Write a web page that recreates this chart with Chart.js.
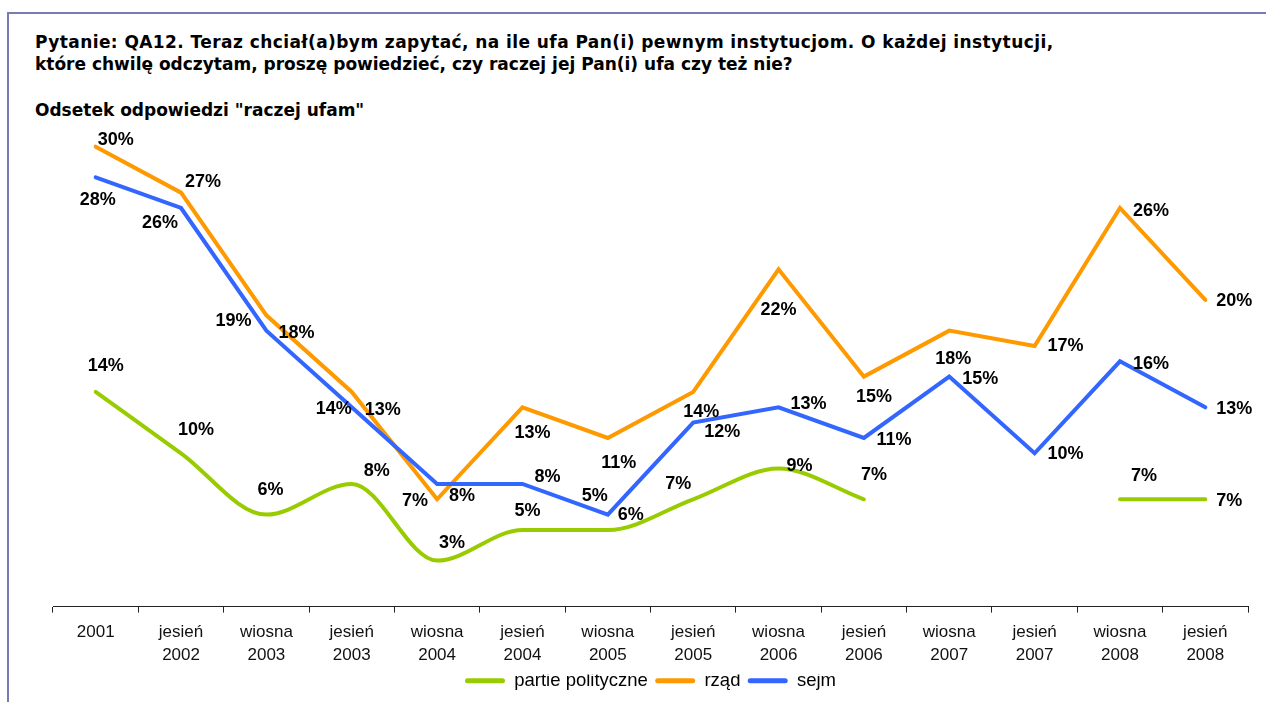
<!DOCTYPE html>
<html>
<head>
<meta charset="utf-8">
<script src="https://cdn.jsdelivr.net/npm/chart.js@4.4.0/dist/chart.umd.min.js"></script>
<style>
html, body { margin: 0; padding: 0; background: #fff; }
#wrap { position: relative; width: 1266px; height: 702px; overflow: hidden; }
#frame { position: absolute; left: 7px; top: 12px; width: 1300px; height: 720px; border-left: 2px solid #7b7bb3; border-top: 2px solid #7b7bb3; }
.t { position: absolute; left: 35px; font-family: "DejaVu Sans", Verdana, sans-serif; font-weight: bold; font-size: 17px; line-height: 22px; color: #000; white-space: nowrap; }
canvas { position: absolute; left: 0; top: 0; }
</style>
</head>
<body>
<div id="wrap">
  <div id="frame"></div>
  <div class="t" style="top:31px; letter-spacing:0.42px">Pytanie: QA12. Teraz chciał(a)bym zapytać, na ile ufa Pan(i) pewnym instytucjom. O każdej instytucji,</div>
  <div class="t" style="top:53px">które chwilę odczytam, proszę powiedzieć, czy raczej jej Pan(i) ufa czy też nie?</div>
  <div class="t" style="top:99px">Odsetek odpowiedzi "raczej ufam"</div>
  <canvas id="chart" width="1266" height="702"></canvas>
</div>
<script>
const categories = [
    ['2001'], ['jesień', '2002'], ['wiosna', '2003'], ['jesień', '2003'],
    ['wiosna', '2004'], ['jesień', '2004'], ['wiosna', '2005'], ['jesień', '2005'],
    ['wiosna', '2006'], ['jesień', '2006'], ['wiosna', '2007'], ['jesień', '2007'],
    ['wiosna', '2008'], ['jesień', '2008']
];
const seriesNames = ['partie polityczne', 'rząd', 'sejm'];
const partie = [14, 10, 6, 8, 3, 5, 5, 7, 9, 7, null, null, 7, 7];
const rzad = [30, 27, 19, 14, 7, 13, 11, 14, 22, 15, 18, 17, 26, 20];
const sejm = [28, 26, 18, 13, 8, 8, 6, 12, 13, 11, 15, 10, 16, 13];

// where each % label sits relative to its point (dx, dy in px)
const labelOffsets = [
    [[10, -27], [15, -25], [4, -26], [25, -14], [15, -19], [5, -20], [-13, -35],
     [-15, -17], [21, -4], [10, -26], null, null, [24, -25], [24, 0]],
    [[20, -8], [22, -12], [-33, 4], [-18, 16], [-22, 0], [10, 24], [11, 24],
     [8, 19], [0, 39], [10, 19], [4, 27], [31, -1], [31, 2], [29, 0]],
    [[2, 21], [-21, 14], [30, 1], [31, 1], [25, 11], [25, -8], [23, -1],
     [29, 8], [30, -5], [30, 1], [31, 1], [31, -1], [31, 1], [29, 0]]
];

const pctLabels = {
    id: 'pctLabels',
    afterDatasetsDraw(chart) {
        const ctx = chart.ctx;
        ctx.save();
        ctx.font = 'bold 18px "Liberation Sans", Arial, sans-serif';
        ctx.fillStyle = '#000';
        ctx.textAlign = 'center';
        ctx.textBaseline = 'alphabetic';
        chart.data.datasets.forEach((ds, di) => {
            const meta = chart.getDatasetMeta(di);
            meta.data.forEach((pt, i) => {
                const v = ds.data[i];
                const off = labelOffsets[di][i];
                if (v === null || !off) return;
                ctx.fillText(v + '%', pt.x + off[0], pt.y + off[1] + 6.5);
            });
        });
        ctx.restore();
    }
};

const ctx = document.querySelector('#chart');
const chart = new Chart(ctx, {
    type: 'line',
    data: {
        labels: categories,
        datasets: [{
            label: seriesNames[0],
            data: partie,
            borderColor: '#99cc00',
            backgroundColor: '#99cc00',
            borderWidth: 4,
            cubicInterpolationMode: 'monotone',
            order: 2
        }, {
            label: seriesNames[1],
            data: rzad,
            borderColor: '#ff9900',
            backgroundColor: '#ff9900',
            borderWidth: 4,
            tension: 0,
            order: 1
        }, {
            label: seriesNames[2],
            data: sejm,
            borderColor: '#3366ff',
            backgroundColor: '#3366ff',
            borderWidth: 4,
            tension: 0,
            order: 0
        }]
    },
    options: {
        responsive: false,
        animation: false,
        layout: { padding: { left: 53, right: 18, top: 116, bottom: 2 } },
        elements: {
            point: { radius: 0, hoverRadius: 0 },
            line: { borderCapStyle: 'round', borderJoinStyle: 'miter' }
        },
        scales: {
            x: {
                offset: true,
                grid: { offset: true, drawOnChartArea: false, tickLength: 6, color: '#222' },
                border: { color: '#222', width: 1 },
                ticks: {
                    color: '#111',
                    padding: 8,
                    maxRotation: 0,
                    autoSkip: false,
                    font: { family: '"Liberation Sans", Arial, sans-serif', size: 17, lineHeight: 1.35 }
                }
            },
            y: { display: false, min: 0, max: 32 }
        },
        plugins: {
            tooltip: { enabled: false },
            legend: {
                position: 'bottom',
                labels: {
                    boxWidth: 40,
                    boxHeight: 5,
                    padding: -3,
                    color: '#111',
                    font: { family: '"Liberation Sans", Arial, sans-serif', size: 18.5 },
                    sort: (a, b) => a.datasetIndex - b.datasetIndex,
                    generateLabels: (ch) => ch.data.datasets.map((ds, i) => ({
                        text: i < ch.data.datasets.length - 1 ? ds.label + '  ' : ds.label,
                        fillStyle: ds.borderColor,
                        strokeStyle: ds.borderColor,
                        lineWidth: 0,
                        borderRadius: 2.5,
                        datasetIndex: i,
                        hidden: false
                    }))
                }
            }
        }
    },
    plugins: [pctLabels]
});
</script>
</body>
</html>
